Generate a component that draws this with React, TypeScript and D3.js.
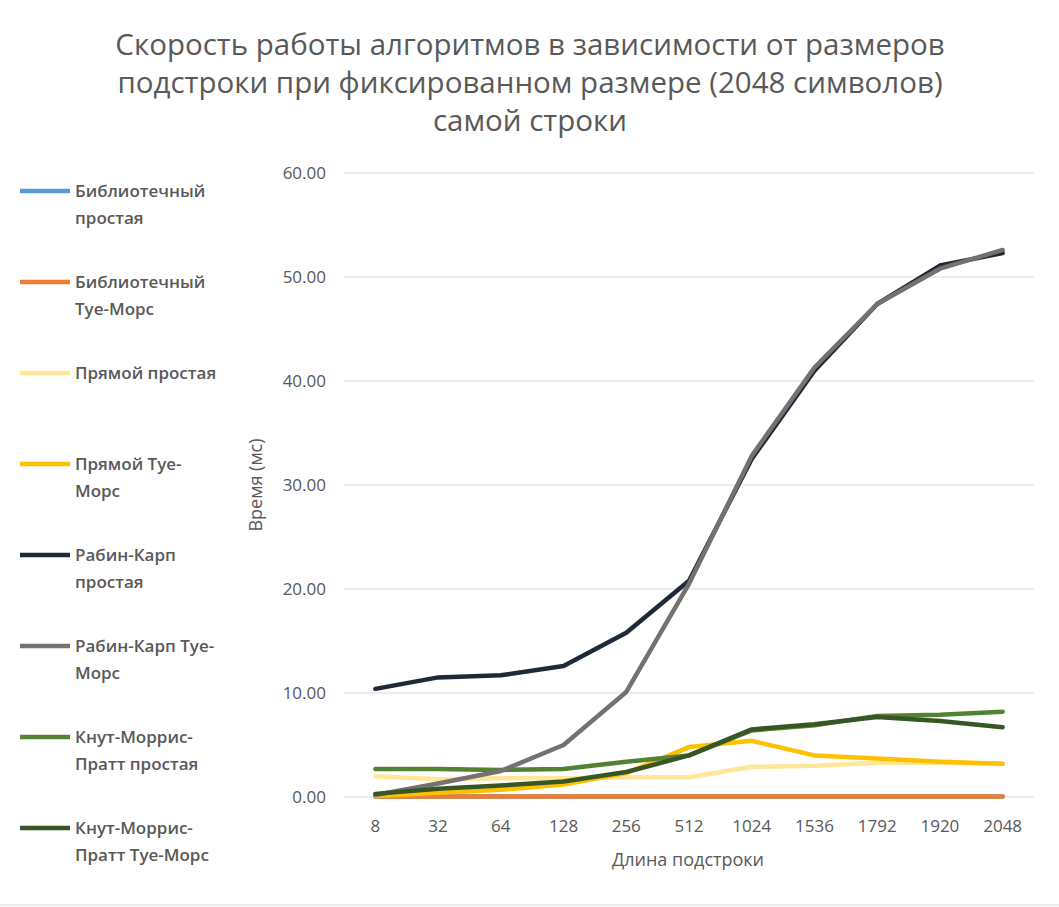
import * as d3 from 'd3';

const categories = ['8', '32', '64', '128', '256', '512', '1024', '1536', '1792', '1920', '2048'];

const seriesNames = [
  ['Библиотечный', 'простая'],
  ['Библиотечный', 'Туе-Морс'],
  ['Прямой простая'],
  ['Прямой Туе-', 'Морс'],
  ['Рабин-Карп', 'простая'],
  ['Рабин-Карп Туе-', 'Морс'],
  ['Кнут-Моррис-', 'Пратт простая'],
  ['Кнут-Моррис-', 'Пратт Туе-Морс'],
];
const seriesColors = ['#5b9bd5', '#ed7d31', '#ffe699', '#ffc000', '#1f2a38', '#767171', '#548235', '#375623'];

const libSimple = [0.05, 0.05, 0.05, 0.05, 0.05, 0.05, 0.06, 0.06, 0.06, 0.06, 0.06];
const libTM = [0.05, 0.05, 0.05, 0.05, 0.05, 0.05, 0.06, 0.06, 0.06, 0.06, 0.06];
const directSimple = [2.0, 1.7, 1.8, 1.8, 1.9, 1.9, 2.9, 3.0, 3.3, 3.3, 3.2];
const directTM = [0.1, 0.4, 0.7, 1.2, 2.3, 4.8, 5.4, 4.0, 3.7, 3.4, 3.2];
const rkSimple = [10.4, 11.5, 11.7, 12.6, 15.8, 20.8, 32.5, 41.0, 47.4, 51.1, 52.3];
const rkTM = [0.2, 1.3, 2.5, 5.0, 10.1, 20.5, 32.8, 41.3, 47.4, 50.8, 52.6];
const kmpSimple = [2.7, 2.7, 2.6, 2.7, 3.4, 4.0, 6.4, 6.9, 7.8, 7.9, 8.2];
const kmpTM = [0.3, 0.8, 1.1, 1.5, 2.4, 4.0, 6.5, 7.0, 7.7, 7.3, 6.7];

const seriesValues = [libSimple, libTM, directSimple, directTM, rkSimple, rkTM, kmpSimple, kmpTM];
const drawOrder = [0, 1, 2, 3, 6, 4, 5, 7];
const yTicks = [0, 10, 20, 30, 40, 50, 60];

const titleLines = [
  'Скорость работы алгоритмов в зависимости от размеров',
  'подстроки при фиксированном размере (2048 символов)',
  'самой строки',
];

export default function App() {
  const W = 1059, H = 907;
  const left = 344, right = 1034, top = 173, bottom = 797;
  const x = d3.scaleBand<string>().domain(categories).range([left, right]);
  const y = d3.scaleLinear().domain([0, 60]).range([bottom, top]);
  const line = d3
    .line<number>()
    .x((_, i) => (x(categories[i]) ?? 0) + x.bandwidth() / 2)
    .y((d) => y(d));
  const font = '"Open Sans", "DejaVu Sans", sans-serif';
  const grey = '#595959';

  return (
    <svg width={W} height={H} style={{ position: 'absolute', left: 0, top: 0, fontFamily: font }}>
      <rect width={W} height={H} fill="#fff" />
      <line x1={0} x2={W} y1={905} y2={905} stroke="#d9d9d9" />
      {titleLines.map((t, i) => (
        <text key={t} x={530} y={55 + i * 38} textAnchor="middle" fontSize={29.5} fill={grey}>
          {t}
        </text>
      ))}
      {yTicks.map((t) => (
        <g key={t}>
          <line x1={left} x2={right} y1={y(t)} y2={y(t)} stroke="#d9d9d9" strokeWidth={1} />
          <text x={326} y={y(t) + 6} textAnchor="end" fontSize={17} fill={grey}>
            {t.toFixed(2)}
          </text>
        </g>
      ))}
      {categories.map((c) => (
        <text key={c} x={(x(c) ?? 0) + x.bandwidth() / 2} y={832} textAnchor="middle" fontSize={17} fill={grey}>
          {c}
        </text>
      ))}
      <text x={688} y={866} textAnchor="middle" fontSize={18} fill={grey}>
        Длина подстроки
      </text>
      <text transform={`translate(262,485) rotate(-90)`} textAnchor="middle" fontSize={18} fill={grey}>
        Время (мс)
      </text>
      {drawOrder.map((i) => (
        <path
          key={i}
          d={line(seriesValues[i]) ?? ''}
          fill="none"
          stroke={seriesColors[i]}
          strokeWidth={4.5}
          strokeLinejoin="round"
          strokeLinecap="round"
        />
      ))}
      {seriesNames.map((lines, i) => {
        const ly = 191 + i * 91;
        return (
          <g key={i}>
            <line x1={20} x2={70} y1={ly} y2={ly} stroke={seriesColors[i]} strokeWidth={4.5} />
            {lines.map((t, j) => (
              <text key={j} x={75} y={ly + 6 + j * 27} fontSize={17} fontWeight={600} fill={grey}>
                {t}
              </text>
            ))}
          </g>
        );
      })}
    </svg>
  );
}
